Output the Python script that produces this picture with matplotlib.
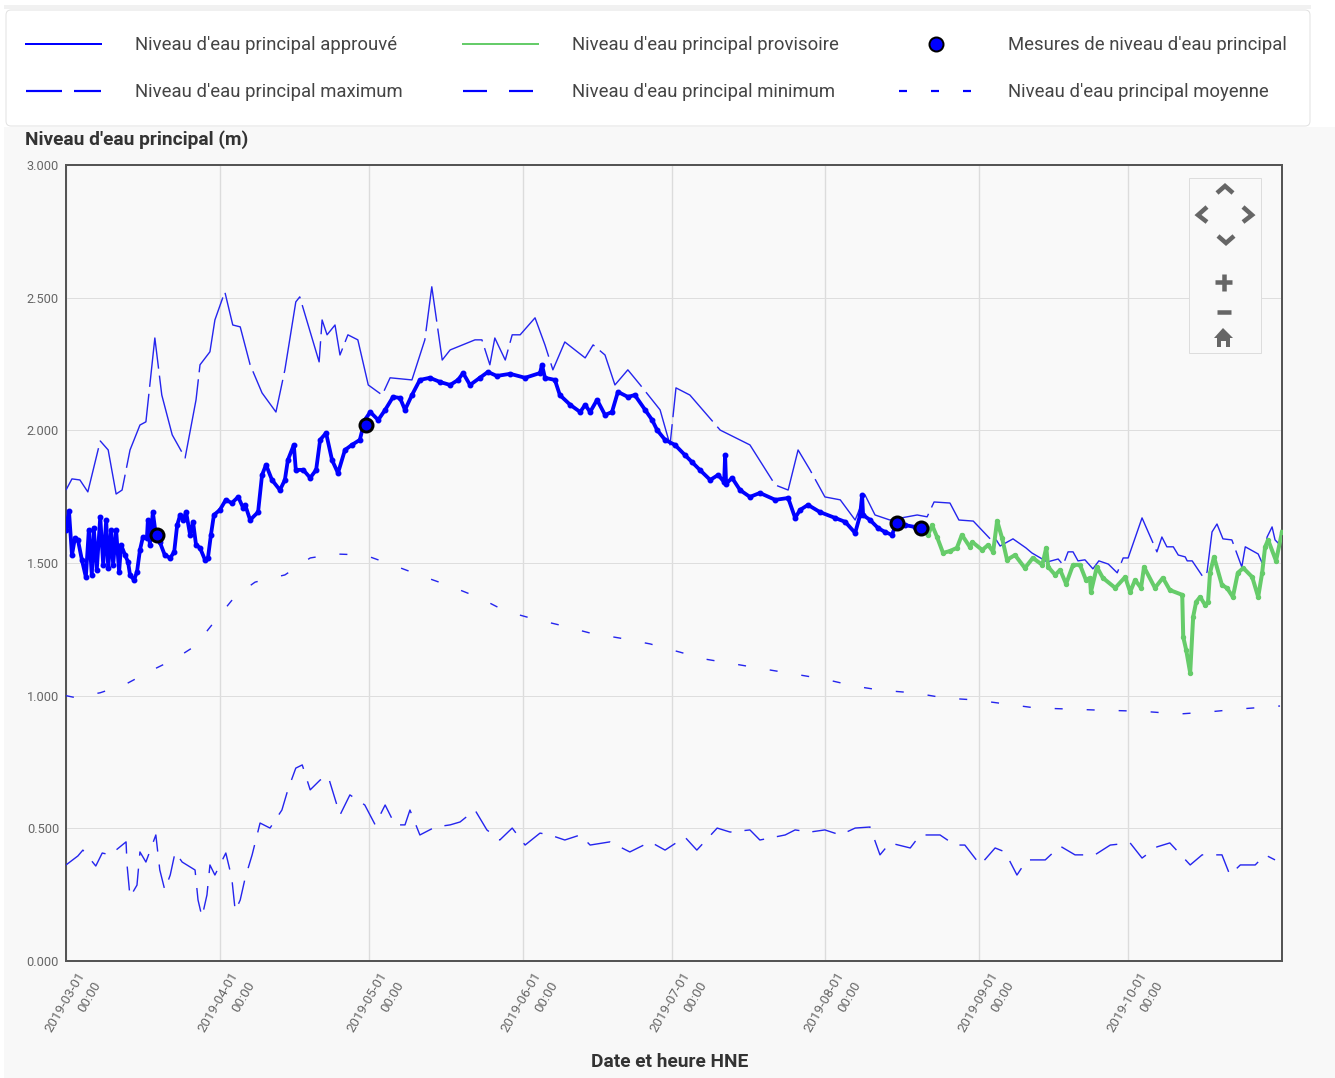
import datetime as dt
import matplotlib
matplotlib.use("Agg")
import matplotlib.pyplot as plt
import matplotlib.dates as mdates
from matplotlib.lines import Line2D
from matplotlib.patches import FancyBboxPatch, Rectangle, Polygon
from matplotlib.transforms import ScaledTranslation

# ---------- data (days since 2019-03-01, level in metres) ----------
start_date = dt.datetime(2019, 3, 1)

approved_days = [0,0.6,1.2,1.8,2.4,3.2,4.0,4.6,5.2,5.6,6.2,6.9,7.5,8.1,8.5,9.1,9.5,10.1,10.7,11.1,11.9,12.5,12.9,13.7,14.3,14.9,15.5,16.3,16.5,16.9,17.5,18.1,18.9,19.9,21.0,21.8,22.4,23.0,23.6,24.2,25.0,25.6,26.2,27.0,28.0,28.6,29.2,29.8,31.0,32.2,33.4,34.7,35.7,36.1,37.1,38.7,39.5,40.3,41.5,43.1,44.1,44.7,45.9,46.3,47.8,49.2,50.4,51.2,52.4,53.6,54.8,56.2,57.6,59.2,60.2,61.3,62.9,64.3,65.9,67.3,68.3,69.7,71.3,73.3,75.4,77.4,79.0,80.0,81.4,83.4,85.0,86.8,89.5,92.5,95.5,95.9,96.5,98.5,99.5,101.6,103.6,104.6,105.6,107.0,108.6,110.0,111.2,113.2,114.6,116.7,118.1,119.1,120.7,122.7,124.7,126.1,127.7,129.8,131.4,132.6,132.8,133.0,134.2,135.8,137.8,139.8,142.9,145.5,146.9,147.9,149.5,151.9,154.9,157.0,159.0,160.0,160.4,160.6,162.0,163.6,165.0,166.4,167.2,169.0,171.0,172.3]
approved_vals = [1.625,1.696,1.530,1.594,1.587,1.512,1.447,1.625,1.455,1.632,1.474,1.674,1.493,1.662,1.481,1.625,1.493,1.625,1.466,1.568,1.530,1.504,1.455,1.436,1.466,1.549,1.598,1.594,1.662,1.568,1.692,1.606,1.579,1.530,1.519,1.542,1.643,1.681,1.662,1.692,1.606,1.655,1.568,1.557,1.512,1.519,1.606,1.681,1.700,1.738,1.726,1.749,1.707,1.719,1.662,1.692,1.832,1.870,1.813,1.775,1.813,1.888,1.945,1.851,1.851,1.821,1.851,1.964,1.990,1.888,1.839,1.926,1.945,1.964,2.039,2.069,2.039,2.077,2.126,2.122,2.077,2.133,2.190,2.198,2.182,2.171,2.190,2.216,2.171,2.198,2.220,2.205,2.213,2.198,2.216,2.247,2.198,2.190,2.133,2.096,2.069,2.096,2.069,2.115,2.058,2.069,2.145,2.126,2.133,2.077,2.039,2.001,1.964,1.945,1.907,1.881,1.851,1.813,1.832,1.805,1.907,1.798,1.821,1.775,1.749,1.764,1.738,1.745,1.670,1.700,1.719,1.692,1.670,1.655,1.613,1.681,1.756,1.681,1.662,1.632,1.617,1.606,1.643,1.643,1.636,1.632]

provisional_days = [172.3,173.7,174.5,175.5,176.7,178.1,179.5,180.5,182.1,182.6,184.6,185.8,186.8,187.6,188.6,189.6,191.2,193.2,194.8,196.7,197.5,197.9,199.3,200.3,201.5,202.9,204.3,205.5,206.3,206.5,207.7,208.9,211.4,213.4,214.4,215.4,216.6,217.2,219.4,221.0,222.4,224.9,225.1,225.7,226.5,227.1,227.7,228.5,229.5,230.1,230.5,231.3,232.9,233.9,235.1,236.1,237.2,239.0,240.2,241.0,241.6,242.2,243.8,245.0]
provisional_vals = [1.632,1.606,1.643,1.598,1.538,1.545,1.557,1.606,1.561,1.579,1.549,1.568,1.542,1.659,1.594,1.512,1.530,1.481,1.519,1.493,1.557,1.485,1.455,1.474,1.421,1.493,1.493,1.436,1.444,1.391,1.485,1.444,1.406,1.447,1.391,1.436,1.406,1.485,1.406,1.444,1.398,1.380,1.221,1.172,1.086,1.297,1.353,1.372,1.342,1.353,1.463,1.523,1.417,1.406,1.372,1.463,1.481,1.447,1.372,1.463,1.561,1.587,1.508,1.617]

maximum_days = [0,1.2,2.8,4.4,6.9,8.5,10.1,11.3,12.9,14.9,16.1,17.9,19.3,21.4,24.0,26.2,27.0,29.0,30.0,32.0,33.6,35.1,37.1,39.5,42.3,44.1,46.3,47.1,51.0,51.6,52.6,54.2,55.2,56.8,58.8,60.9,63.7,65.3,69.7,72.3,73.7,75.8,77.4,82.4,83.8,85.4,86.4,88.5,89.9,91.5,94.5,96.5,98.1,100.5,104.6,106.2,108.6,110.6,113.2,115.7,119.7,121.7,122.9,125.7,131.8,137.8,142.9,145.5,147.5,149.9,152.9,156.0,159.0,161.0,163.0,166.0,171.5,173.5,174.9,178.1,179.9,182.8,186.2,187.2,188.2,190.8,193.4,194.6,197.7,199.9,200.9,201.9,202.9,203.9,205.3,206.9,208.1,210.0,211.8,213.0,214.0,216.8,219.8,220.8,221.8,223.1,224.1,225.5,225.9,226.9,229.1,229.9,230.9,231.9,233.1,234.9,236.9,237.6,240.2,241.0,242.0,243.0,243.6,244.6]
maximum_vals = [1.775,1.817,1.813,1.768,1.960,1.926,1.760,1.775,1.926,2.020,2.032,2.348,2.133,1.983,1.896,2.115,2.247,2.296,2.416,2.522,2.397,2.390,2.247,2.141,2.069,2.228,2.484,2.503,2.258,2.416,2.360,2.397,2.284,2.360,2.341,2.171,2.133,2.198,2.190,2.341,2.541,2.265,2.303,2.341,2.341,2.247,2.348,2.265,2.360,2.360,2.424,2.322,2.228,2.333,2.273,2.322,2.284,2.171,2.228,2.171,2.077,1.945,2.160,2.133,2.001,1.945,1.794,1.775,1.926,1.851,1.749,1.738,1.662,1.756,1.681,1.662,1.681,1.674,1.730,1.726,1.662,1.658,1.591,1.594,1.564,1.591,1.557,1.538,1.504,1.515,1.493,1.542,1.542,1.508,1.512,1.478,1.508,1.496,1.463,1.519,1.519,1.670,1.542,1.598,1.561,1.561,1.530,1.523,1.508,1.508,1.447,1.466,1.617,1.647,1.591,1.587,1.485,1.561,1.534,1.500,1.598,1.636,1.587,1.568]

minimum_days = [0,2.4,3.4,6.0,7.3,8.9,12.1,12.3,12.9,14.3,14.9,16.1,18.1,18.9,19.9,21.0,22.0,23.4,26.0,26.6,27.4,28.4,29.0,30.0,32.2,33.4,34.1,35.1,36.1,37.5,39.1,41.1,43.5,44.7,46.3,47.6,49.2,51.2,52.8,55.2,57.2,60.2,62.3,64.3,66.3,68.3,69.3,71.3,74.4,77.4,79.4,82.4,84.8,87.4,89.9,92.5,95.5,97.5,100.5,103.6,105.6,109.6,113.6,117.7,120.7,124.7,127.1,131.2,133.8,137.8,139.8,144.9,146.9,149.9,152.9,156.0,159.0,162.0,164.0,166.0,170.1,172.1,176.1,179.1,181.1,184.2,187.2,189.2,191.6,193.6,197.3,200.3,203.3,207.3,210.4,214.4,216.8,219.8,222.4,226.5,228.9,232.9,234.5,236.6,239.6,241.6,243.6]
minimum_vals = [0.362,0.396,0.418,0.358,0.407,0.400,0.449,0.362,0.241,0.286,0.411,0.373,0.475,0.343,0.268,0.324,0.411,0.373,0.343,0.230,0.166,0.249,0.362,0.324,0.407,0.313,0.188,0.230,0.313,0.400,0.520,0.501,0.569,0.645,0.727,0.739,0.645,0.682,0.697,0.550,0.626,0.588,0.513,0.588,0.513,0.513,0.569,0.475,0.505,0.513,0.524,0.569,0.494,0.456,0.501,0.437,0.482,0.475,0.456,0.475,0.437,0.449,0.411,0.449,0.418,0.467,0.418,0.501,0.486,0.494,0.456,0.475,0.494,0.486,0.494,0.475,0.501,0.505,0.400,0.445,0.426,0.475,0.475,0.437,0.437,0.362,0.426,0.411,0.324,0.381,0.381,0.433,0.400,0.400,0.437,0.445,0.388,0.430,0.445,0.362,0.400,0.400,0.324,0.362,0.362,0.400,0.381]

mean_days = [0,1.8,6.9,12.0,17.0,22.0,26.0,30.0,34.1,38.1,44.1,49.2,54.2,60.2,66.3,72.3,77.4,83.4,88.5,93.5,99.5,105.6,111.6,117.7,123.7,128.7,134.8,140.8,146.9,152.9,158.9,164.0,171.1,177.1,183.1,189.2,195.2,201.3,207.3,213.3,218.4,224.4,230.4,236.6,244.6]
mean_vals = [1.000,0.993,1.011,1.043,1.093,1.139,1.187,1.281,1.375,1.428,1.455,1.519,1.534,1.530,1.489,1.447,1.413,1.368,1.319,1.293,1.266,1.236,1.217,1.195,1.164,1.138,1.119,1.100,1.081,1.062,1.036,1.021,1.010,0.991,0.984,0.969,0.954,0.950,0.946,0.943,0.939,0.931,0.939,0.950,0.961]

measure_days = [18.3, 60.4, 167.4, 172.3]
measure_vals = [1.606, 2.020, 1.651, 1.632]

month_ticks = [dt.datetime(2019, m, 1) for m in range(3, 11)]
x_tick_labels = [f"2019-{m:02d}-01\n00:00" for m in range(3, 11)]
y_ticks = [0, 0.5, 1.0, 1.5, 2.0, 2.5, 3.0]
y_tick_labels = ["0.000", "0.500", "1.000", "1.500", "2.000", "2.500", "3.000"]

legend_labels = ["Niveau d'eau principal approuvé", "Niveau d'eau principal maximum",
                 "Niveau d'eau principal provisoire", "Niveau d'eau principal minimum",
                 "Mesures de niveau d'eau principal", "Niveau d'eau principal moyenne"]
y_title = "Niveau d'eau principal (m)"
x_title = "Date et heure HNE"

# ---------- styling ----------
W, H = 1335, 1078
PX = 0.72  # one pixel in points at dpi 100
plt.rcParams['font.family'] = ['Roboto', 'DejaVu Sans']
plt.rcParams['lines.scale_dashes'] = False
BLUE = '#0000ff'
THIN = '#2525ee'
GREEN = '#66cc6a'
BG = '#f8f8f8'
ICON = '#666666'

fig = plt.figure(figsize=(W / 100, H / 100), dpi=100, facecolor='white')


def fx(x):
    return x / W


def fy(y):
    return 1 - y / H


def to_dates(days):
    base = mdates.date2num(start_date)
    return [base + d for d in days]


fig.patches.append(Rectangle((fx(4), 0), fx(W - 4), fy(127), transform=fig.transFigure,
                             facecolor=BG, edgecolor='none', zorder=-5))
fig.patches.append(Rectangle((fx(4), fy(9)), fx(1307), 4 / H, transform=fig.transFigure,
                             facecolor='#f1f1f1', edgecolor='none', zorder=-5))
fig.patches.append(FancyBboxPatch((6, H - 126), 1304, 116, boxstyle="round,pad=0,rounding_size=5",
                                  transform=None, facecolor='white', edgecolor='#e2e2e2',
                                  linewidth=1 * PX, zorder=-4))

ax = fig.add_axes([fx(66), fy(961), fx(1282 - 66), (961 - 165) / H])
ax.set_facecolor('#f9f9f9')

ax.plot(to_dates(maximum_days), maximum_vals, color=THIN, lw=1.4 * PX,
        dashes=(80 * PX, 7 * PX), zorder=3)
ax.plot(to_dates(minimum_days), minimum_vals, color=THIN, lw=1.4 * PX,
        dashes=(24 * PX, 13 * PX), zorder=3)
ax.plot(to_dates(mean_days), mean_vals, color=THIN, lw=1.4 * PX,
        dashes=(8 * PX, 24 * PX), zorder=3)
ax.plot(to_dates(provisional_days), provisional_vals, color=GREEN, lw=4 * PX,
        marker='o', ms=4 * PX, zorder=4)
ax.plot(to_dates(approved_days), approved_vals, color=BLUE, lw=3.8 * PX,
        marker='o', ms=4.5 * PX, zorder=5)
ax.plot(to_dates(measure_days), measure_vals, ls='none', marker='o', ms=13 * PX,
        mfc=BLUE, mec='black', mew=3 * PX, zorder=6)

ax.set_xlim(mdates.date2num(start_date), mdates.date2num(dt.datetime(2019, 11, 1)))
ax.set_ylim(0, 3)
ax.set_xticks(mdates.date2num(month_ticks))
ax.set_xticklabels(x_tick_labels, rotation=60, ha='right', va='top', rotation_mode='anchor',
                   fontsize=9.6, color='#666666', linespacing=1.6, multialignment='right')
ax.set_yticks(y_ticks)
ax.set_yticklabels(y_tick_labels, fontsize=9.2, color='#666666')
ax.tick_params(axis='both', length=0, pad=5)
ax.tick_params(axis='x', pad=6)
shift = ScaledTranslation(10 / 100, 0, fig.dpi_scale_trans)
for tick in ax.xaxis.get_major_ticks():
    tick.label1.set_transform(tick.label1.get_transform() + shift)
ax.xaxis.grid(True, color='#dcdcdc', lw=1.4 * PX, zorder=1)
ax.yaxis.grid(True, color='#dedede', lw=1 * PX, zorder=1)
ax.set_axisbelow(True)
for spine in ax.spines.values():
    spine.set_color('#555555')
    spine.set_linewidth(2 * PX)

fig.text(fx(25), fy(140), y_title, fontsize=13.8, fontweight='bold', color='#333333',
         ha='left', va='center')
fig.text(fx(670), fy(1062), x_title, fontsize=13.8, fontweight='bold', color='#333333',
         ha='center', va='center')

# ---------- legend ----------
handles = [
    Line2D([], [], color=BLUE, lw=2 * PX),
    Line2D([], [], color=BLUE, lw=2.2 * PX, dashes=(36 * PX, 12 * PX)),
    Line2D([], [], color=GREEN, lw=2 * PX),
    Line2D([], [], color=BLUE, lw=2.2 * PX, dashes=(24 * PX, 22 * PX)),
    Line2D([], [], ls='none', marker='o', ms=14 * PX, mfc=BLUE, mec='black', mew=2 * PX),
    Line2D([], [], color=BLUE, lw=2.2 * PX, dashes=(8 * PX, 24 * PX)),
]
FS = 13.3
fs_px = FS / PX
leg = fig.legend(handles, legend_labels, ncol=3, loc='upper left',
                 bbox_to_anchor=(fx(26), fy(36)), bbox_transform=fig.transFigure,
                 frameon=False, fontsize=FS, borderpad=0, borderaxespad=0,
                 handlelength=75 / fs_px, handletextpad=34 / fs_px, columnspacing=60 / fs_px,
                 labelspacing=1.58, numpoints=1, labelcolor='#444444')

# ---------- navigation control ----------
nav_z = 8
fig.add_artist(Rectangle((fx(1189), fy(353)), 72 / W, 175 / H, transform=fig.transFigure,
                         facecolor='#f9f9f9', edgecolor='#dddddd', lw=1 * PX, zorder=nav_z))
chevrons = [
    [(1217, 193), (1225, 186), (1233, 193)],
    [(1207, 207), (1198, 215), (1207, 222)],
    [(1243, 207), (1252, 215), (1243, 222)],
    [(1218, 236), (1226, 243), (1234, 236)],
    [(1215, 282), (1232, 282)],
    [(1223.5, 274), (1223.5, 291)],
    [(1217, 312), (1231, 312)],
]
for pts in chevrons:
    fig.add_artist(Line2D([fx(p[0]) for p in pts], [fy(p[1]) for p in pts], color=ICON,
                          lw=4.5 * PX, transform=fig.transFigure, zorder=nav_z + 1,
                          solid_capstyle='butt', solid_joinstyle='miter'))
home = [(1223, 328), (1233, 338), (1230, 338), (1230, 347), (1226, 347), (1226, 341),
        (1221, 341), (1221, 347), (1217, 347), (1217, 338), (1214, 338)]
fig.add_artist(Polygon([(fx(a), fy(b)) for a, b in home], closed=True, facecolor=ICON,
                       edgecolor='none', transform=fig.transFigure, zorder=nav_z + 1))

fig.savefig('out.png', dpi=100, facecolor=fig.get_facecolor())
